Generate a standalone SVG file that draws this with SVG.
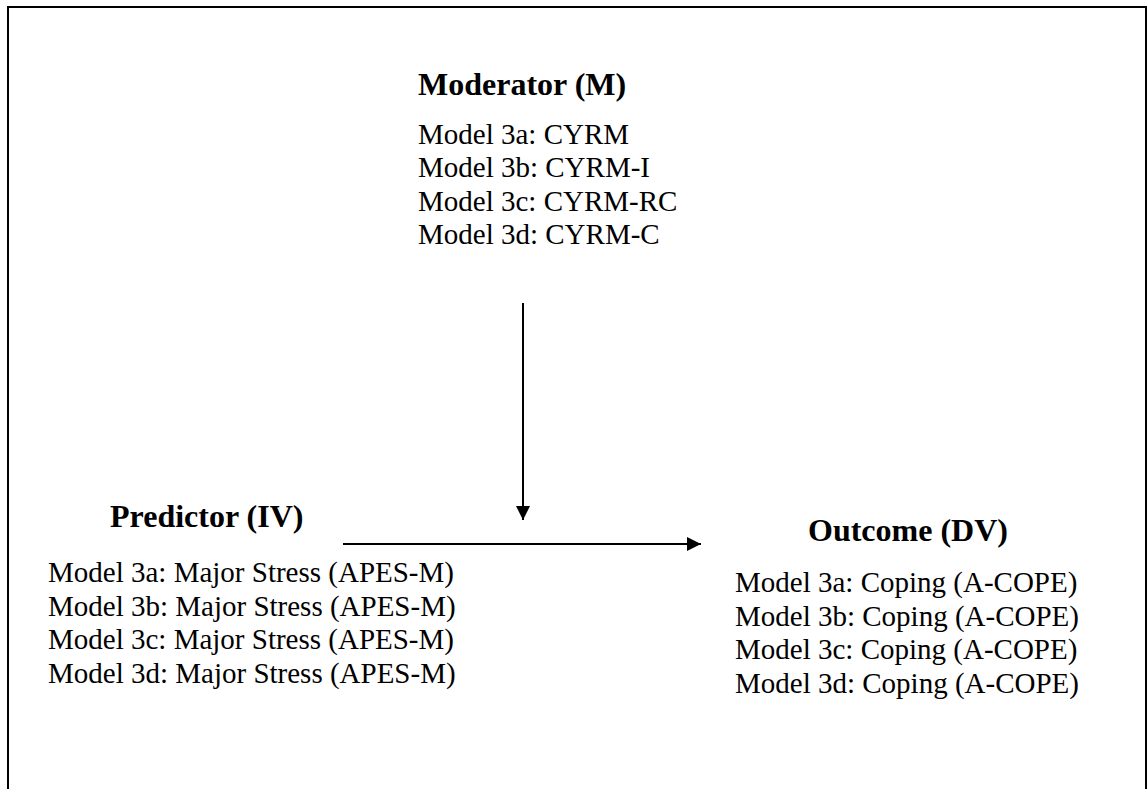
<svg xmlns="http://www.w3.org/2000/svg" width="1148" height="789" viewBox="0 0 1148 789">
  <style>
    .head { font-family: "Liberation Serif", "Times New Roman", serif; font-size: 32px; font-weight: bold; fill: #000; }
    .body { font-family: "Liberation Serif", "Times New Roman", serif; font-size: 29px; fill: #000; }
    .edge { stroke: #000; stroke-width: 2; fill: none; }
  </style>
  <defs>
    <marker id="arrow" viewBox="0 0 10 10" refX="10" refY="5" markerWidth="7.5" markerHeight="7" markerUnits="strokeWidth" orient="auto">
      <path d="M0,0 L10,5 L0,10 Z" fill="#000"/>
    </marker>
  </defs>
  <rect x="0" y="0" width="1148" height="789" fill="#fff"/>
  <!-- outer frame, open at the bottom -->
  <path d="M8,789 L8,7 L1146,7 L1146,789" stroke="#000" stroke-width="2" fill="none"/>

  <g id="moderator">
    <text class="head" x="418" y="95">Moderator (M)</text>
    <text class="body" x="418" y="143.5">Model 3a: CYRM</text>
    <text class="body" x="418" y="177">Model 3b: CYRM-I</text>
    <text class="body" x="418" y="210.5">Model 3c: CYRM-RC</text>
    <text class="body" x="418" y="244">Model 3d: CYRM-C</text>
  </g>

  <g id="predictor">
    <text class="head" x="110" y="527">Predictor (IV)</text>
    <text class="body" x="48" y="582">Model 3a: Major Stress (APES-M)</text>
    <text class="body" x="48" y="615.5">Model 3b: Major Stress (APES-M)</text>
    <text class="body" x="48" y="649">Model 3c: Major Stress (APES-M)</text>
    <text class="body" x="48" y="682.5">Model 3d: Major Stress (APES-M)</text>
  </g>

  <g id="outcome">
    <text class="head" x="808" y="541">Outcome (DV)</text>
    <text class="body" x="735" y="592">Model 3a: Coping (A-COPE)</text>
    <text class="body" x="735" y="625.5">Model 3b: Coping (A-COPE)</text>
    <text class="body" x="735" y="659">Model 3c: Coping (A-COPE)</text>
    <text class="body" x="735" y="692.5">Model 3d: Coping (A-COPE)</text>
  </g>

  <g id="connectors">
    <line class="edge" x1="523" y1="303" x2="523" y2="520" marker-end="url(#arrow)"/>
    <line class="edge" x1="343" y1="544" x2="701" y2="544" marker-end="url(#arrow)"/>
  </g>
</svg>
